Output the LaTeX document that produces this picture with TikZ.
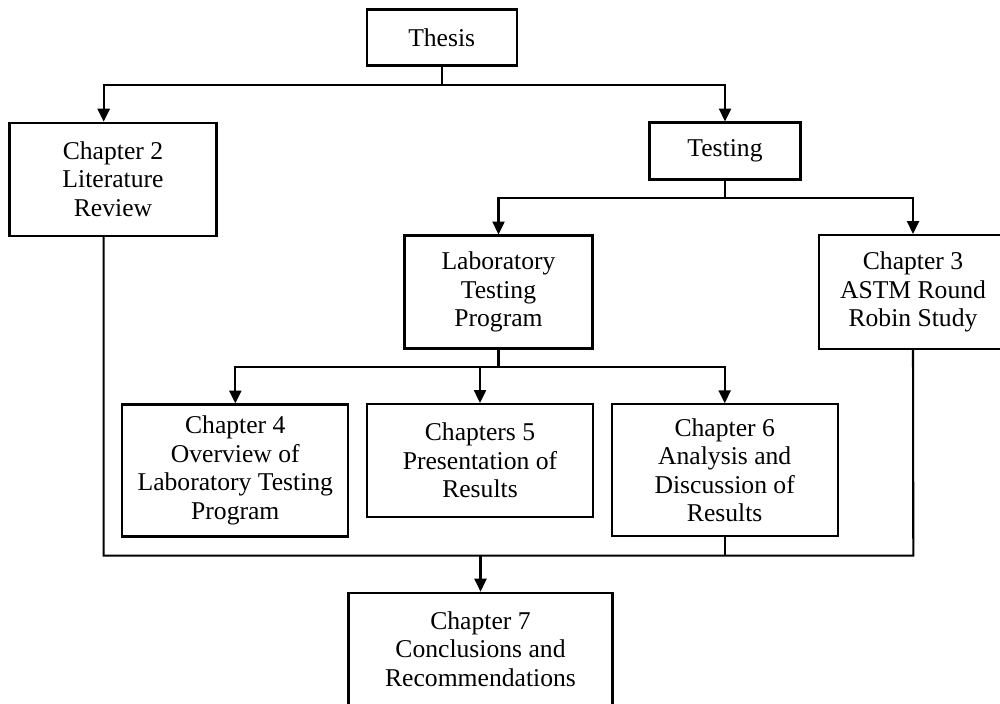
\documentclass[tikz,border=0pt]{standalone}
\usepackage{fontspec}
\setmainfont{Liberation Serif}
\usetikzlibrary{arrows.meta}
\begin{document}
\begin{tikzpicture}[
        x=0.48pt, y=-0.48pt,
        chapter_box/.style={draw, line width=1pt, align=center, inner sep=0pt,
            font=\fontsize{12.3}{13.7}\selectfont},
        link_line/.style={line width=1pt},
        link_arrow/.style={link_line, -{Triangle[length=6.2pt, width=5.8pt]}}
    ]
        \useasboundingbox (0,0) rectangle (1000,704);
        % Top row
        \node[chapter_box, minimum width=150*0.48pt, minimum height=56*0.48pt] (thesis) at (441.7,37.5) {Thesis};
        \node[chapter_box, minimum width=207*0.48pt, minimum height=113*0.48pt] (ch2) at (113,179.2) {Chapter 2\\Literature\\Review};
        \node[chapter_box, minimum width=151*0.48pt, minimum height=57*0.48pt] (testing) at (725,151) {Testing};
        % Testing branch
        \node[chapter_box, minimum width=188*0.48pt, minimum height=113*0.48pt] (lab) at (498.5,292) {Laboratory\\Testing\\Program};
        \node[chapter_box, minimum width=188*0.48pt, minimum height=114*0.48pt] (ch3) at (913,292) {Chapter 3\\ASTM Round\\Robin Study};
        % Laboratory chapters
        \node[chapter_box, minimum width=226*0.48pt, minimum height=132*0.48pt] (ch4) at (235.3,470.5) {Chapter 4\\Overview of\\Laboratory Testing\\Program};
        \node[chapter_box, minimum width=226*0.48pt, minimum height=113*0.48pt] (ch5) at (480,460.5) {Chapters 5\\Presentation of\\Results};
        \node[chapter_box, minimum width=226*0.48pt, minimum height=132*0.48pt] (ch6) at (724.7,470.3) {Chapter 6\\Analysis and\\Discussion of\\Results};
        % Conclusions
        \node[chapter_box, minimum width=264*0.48pt, minimum height=113*0.48pt] (ch7) at (480.5,649.2) {Chapter 7\\Conclusions and\\Recommendations};

        % Junctions
        \coordinate (thesis_j) at (441.7,85);
        \coordinate (testing_j) at (725,198);
        \coordinate (lab_j) at (498.5,367.3);
        \coordinate (left_j) at (103.7,555.7);
        \coordinate (right_j) at (913.3,555.7);

        % Thesis -> Chapter 2, Testing
        \draw[link_line] (thesis.south) -- (thesis_j);
        \draw[link_arrow] (thesis_j) -| (ch2.north -| left_j);
        \draw[link_arrow] (thesis_j) -| (testing.north);
        % Testing -> Laboratory, Chapter 3
        \draw[link_line] (testing.south) -- (testing_j);
        \draw[link_arrow] (testing_j) -| (lab.north);
        \draw[link_arrow] (testing_j) -| (ch3.north);
        % Laboratory -> Chapters 4, 5, 6
        \draw[link_line] (lab.south) -- (lab_j);
        \draw[link_arrow] (lab_j) -| (ch4.north);
        \draw[link_arrow] (lab_j) -| (ch6.north);
        \draw[link_arrow] (lab_j -| ch5.north) -- (ch5.north);
        % Everything -> Chapter 7
        \draw[link_line] (ch2.south -| left_j) -- (left_j) -- (right_j) -- (ch3.south);
        \draw[link_line] (ch6.south) -- (ch6.south |- left_j);
        \draw[link_arrow] (left_j -| ch7.north) -- (ch7.north);
    \end{tikzpicture}
\end{document}
